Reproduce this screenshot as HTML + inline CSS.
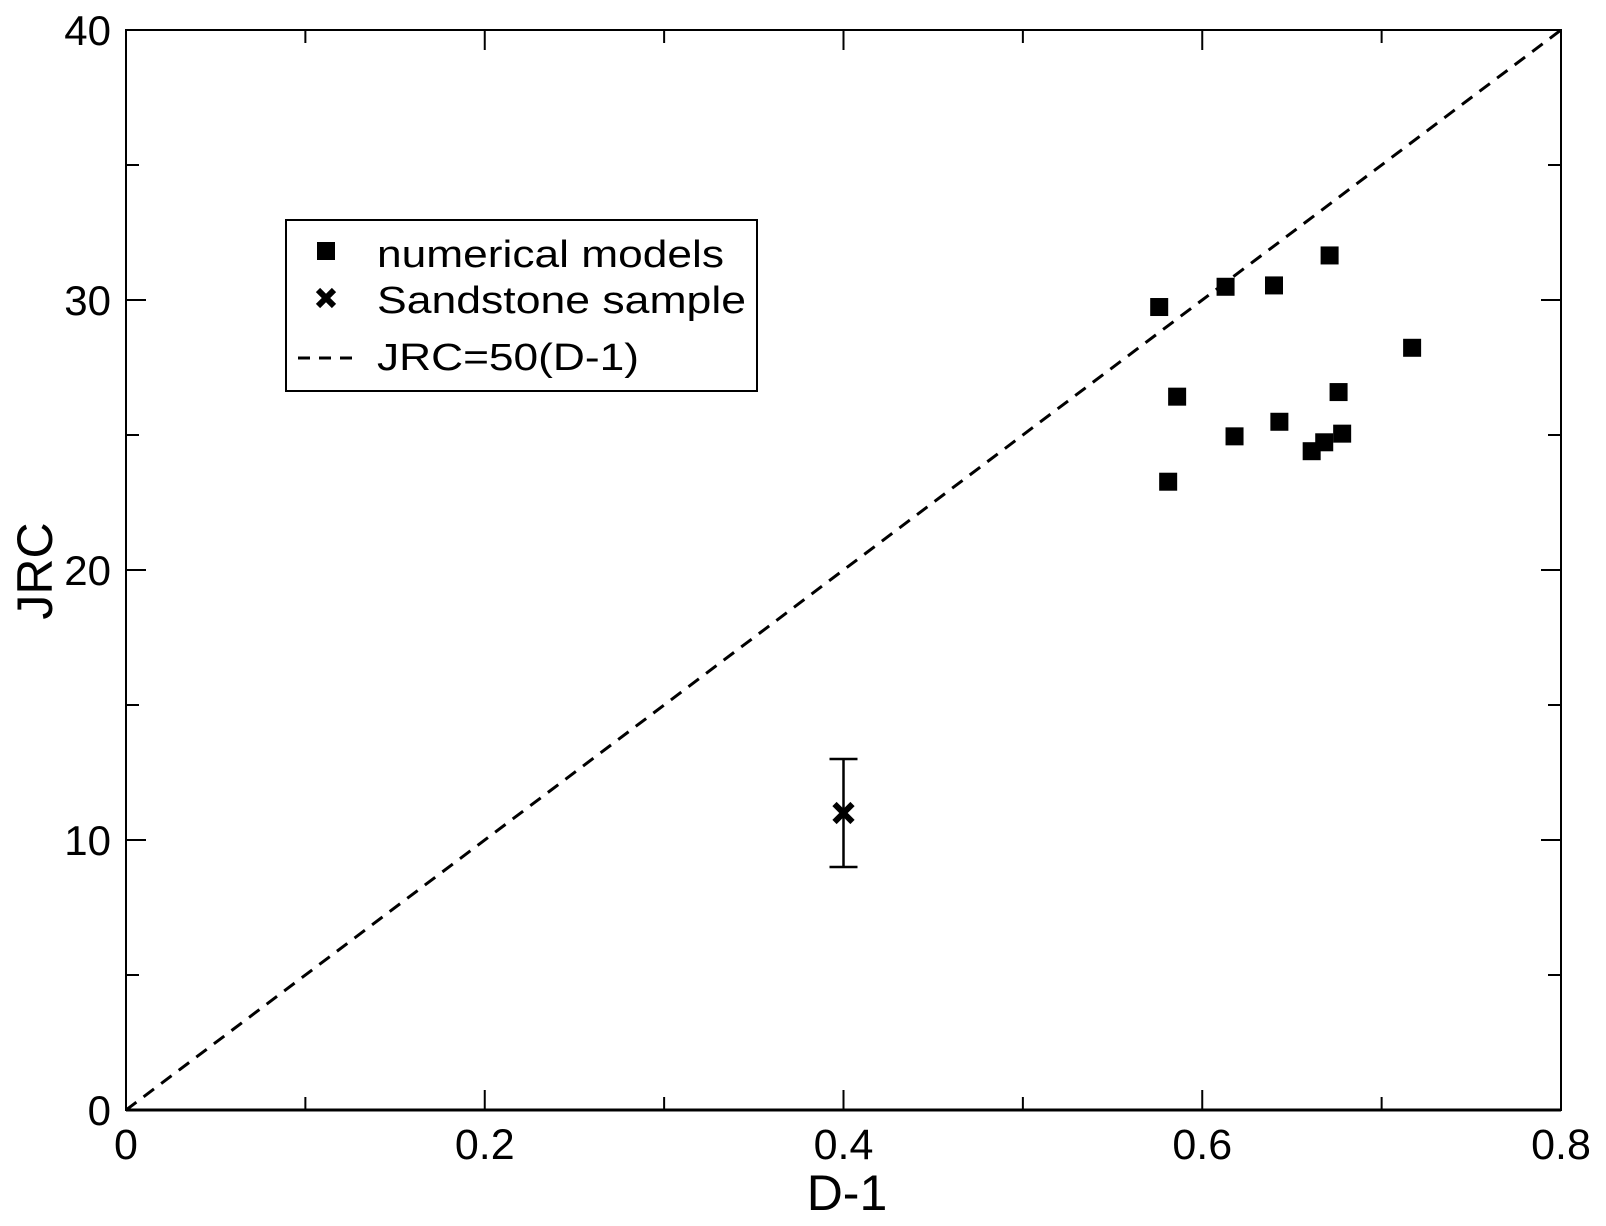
<!DOCTYPE html>
<html><head><meta charset="utf-8"><style>
html,body{margin:0;padding:0;background:#fff;}
svg{display:block;font-family:"Liberation Sans",sans-serif;}
</style></head><body>
<svg id="chart" width="1606" height="1226" viewBox="0 0 1606 1226" xmlns="http://www.w3.org/2000/svg">
<rect x="0" y="0" width="1606" height="1226" fill="#fff"/>
<g id="plot"></g>
<g id="legend">
  <rect x="286" y="220" width="471" height="171" fill="#fff" stroke="#000" stroke-width="2"/>
  <rect x="317" y="242" width="18" height="18" fill="#000"/>
  <text x="377" y="267" font-size="38" textLength="347" lengthAdjust="spacingAndGlyphs">numerical models</text>
  <path d="M318,290 L334,306 M334,290 L318,306" stroke="#000" stroke-width="6"/>
  <text x="377" y="313" font-size="38" textLength="369" lengthAdjust="spacingAndGlyphs">Sandstone sample</text>
  <line x1="298" y1="358" x2="353" y2="358" stroke="#000" stroke-width="3" stroke-dasharray="12,9"/>
  <text x="377" y="370" font-size="38" textLength="262" lengthAdjust="spacingAndGlyphs">JRC=50(D-1)</text>
</g>
<text x="847" y="1210" font-size="50" text-anchor="middle">D-1</text>
<text transform="translate(52,571) rotate(-90)" font-size="50" text-anchor="middle">JRC</text>
</svg>
<script>
const xTicks = [0, 0.2, 0.4, 0.6, 0.8];
const xTickLabels = ["0", "0.2", "0.4", "0.6", "0.8"];
const yTicks = [0, 10, 20, 30, 40];
const yTickLabels = ["0", "10", "20", "30", "40"];
const modelD = [0.576, 0.613, 0.640, 0.671, 0.717, 0.586, 0.676, 0.643, 0.618, 0.678, 0.668, 0.661, 0.581];
const modelJRC = [29.74, 30.49, 30.54, 31.65, 28.23, 26.42, 26.59, 25.49, 24.95, 25.05, 24.73, 24.40, 23.27];
const sampleD = [0.4];
const sampleJRC = [11];
const sampleErr = [2];
const fitSlope = 50;

const X0 = 126, X1 = 1561, Y0 = 1110, Y1 = 30;
function sx(v){ return X0 + (v - 0) / 0.8 * (X1 - X0); }
function sy(v){ return Y0 - (v - 0) / 40 * (Y0 - Y1); }
const NS = "http://www.w3.org/2000/svg";
const plot = document.getElementById('plot');
function mk(tag, attrs){ const e = document.createElementNS(NS, tag); for (const k in attrs) e.setAttribute(k, attrs[k]); plot.appendChild(e); return e; }

const fit = mk('line', {x1: sx(0), y1: sy(0), x2: sx(0.8), y2: sy(fitSlope*0.8), stroke: '#000', 'stroke-width': 3, 'stroke-dasharray': '13,9'});



const frame = mk('rect', {x: X0, y: Y1, width: X1 - X0, height: Y0 - Y1, fill: 'none', stroke: '#000', 'stroke-width': 2});


const xaxis = mk('line', {x1: X0, y1: Y0, x2: X1, y2: Y0, stroke: '#000', 'stroke-width': 3});



for (let i = 0; i <= 8; i++) {
  const v = i * 0.1, len = (i % 2 === 0) ? 20 : 13, x = sx(v);
  const t1 = mk('line', {x1: x, y1: Y0, x2: x, y2: Y0 - len, stroke: '#000', 'stroke-width': 2});
  
  
  const t2 = mk('line', {x1: x, y1: Y1, x2: x, y2: Y1 + len, stroke: '#000', 'stroke-width': 2});
  
  
}
xTicks.forEach((v, i) => {
  const t = mk('text', {x: sx(v), y: 1159, 'font-size': 43, 'text-anchor': 'middle'});
  t.textContent = xTickLabels[i];
  
  
});
for (let i = 0; i <= 8; i++) {
  const v = i * 5, len = (i % 2 === 0) ? 20 : 13, y = sy(v);
  const t1 = mk('line', {x1: X0, y1: y, x2: X0 + len, y2: y, stroke: '#000', 'stroke-width': 2});
  
  
  const t2 = mk('line', {x1: X1, y1: y, x2: X1 - len, y2: y, stroke: '#000', 'stroke-width': 2});
  
  
}
yTicks.forEach((v, i) => {
  const t = mk('text', {x: 111, y: sy(v) + 15, 'font-size': 42, 'text-anchor': 'end'});
  t.textContent = yTickLabels[i];
  
  
});

modelD.forEach((d, i) => {
  const r = mk('rect', {x: sx(d) - 9, y: sy(modelJRC[i]) - 9, width: 18, height: 18, fill: '#000'});
  
  
});

sampleD.forEach((d, i) => {
  const x = sx(d), y = sy(sampleJRC[i]), yt = sy(sampleJRC[i] + sampleErr[i]), yb = sy(sampleJRC[i] - sampleErr[i]);
  const eb = mk('path', {d: `M${x},${yt} L${x},${yb} M${x-14},${yt} L${x+14},${yt} M${x-14},${yb} L${x+14},${yb}`, stroke: '#000', 'stroke-width': 2.5, fill: 'none'});
  
  
  const m = mk('path', {d: `M${x-9},${y-9} L${x+9},${y+9} M${x+9},${y-9} L${x-9},${y+9}`, stroke: '#000', 'stroke-width': 6});
  
  
});
</script>
</body></html>
